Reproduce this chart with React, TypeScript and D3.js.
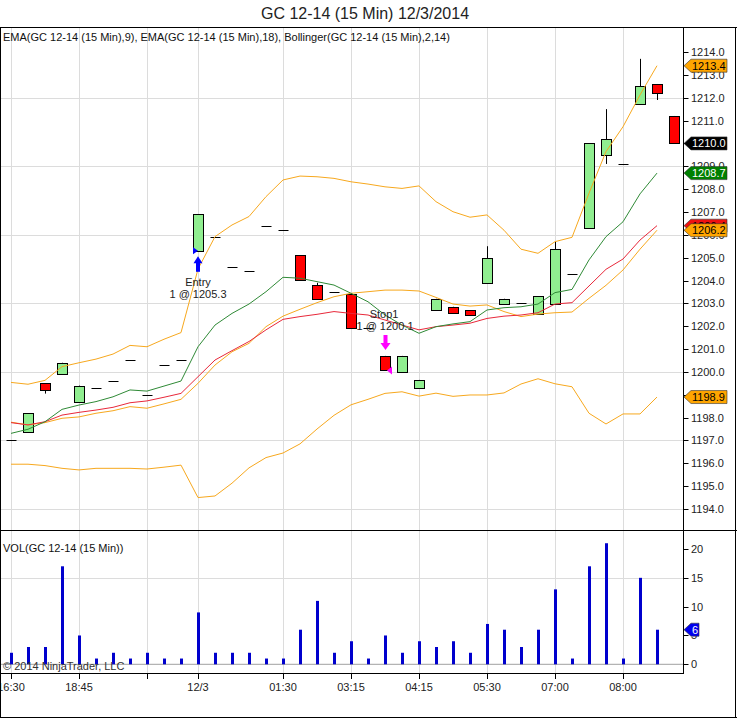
import React from 'react';
import * as d3 from 'd3';

const title = 'GC 12-14 (15 Min)  12/3/2014';
const priceLabel = 'EMA(GC 12-14 (15 Min),9), EMA(GC 12-14 (15 Min),18), Bollinger(GC 12-14 (15 Min),2,14)';
const volLabel = 'VOL(GC 12-14 (15 Min))';
const copyright = '\u00a9 2014 NinjaTrader, LLC';

// 15 min bars
const opens = [1197.0, 1197.35, 1199.5, 1199.9, 1198.7, 1199.3, 1199.6, 1200.5, 1199.0, 1200.3, 1200.5, 1205.3, 1205.9, 1204.6, 1204.4, 1206.4, 1206.2, 1205.1, 1203.8, 1203.5, 1203.4, 1201.9, 1200.7, 1200.0, 1199.3, 1202.7, 1202.85, 1202.7, 1203.9, 1203.0, 1203.0, 1202.5, 1203.0, 1204.3, 1206.3, 1209.5, 1209.1, 1211.7, 1212.6, 1211.2];
const highs = [1197.0, 1198.2, 1199.5, 1200.4, 1199.4, 1199.3, 1199.6, 1200.5, 1199.0, 1200.3, 1200.5, 1206.9, 1205.9, 1204.6, 1204.4, 1206.4, 1206.2, 1205.1, 1203.9, 1203.5, 1203.4, 1201.9, 1200.7, 1200.7, 1199.65, 1203.2, 1202.85, 1202.7, 1205.5, 1203.2, 1203.0, 1203.3, 1205.7, 1204.3, 1210.0, 1211.5, 1209.1, 1213.7, 1212.6, 1211.2];
const lows = [1197.0, 1197.35, 1199.05, 1199.9, 1198.7, 1199.3, 1199.6, 1200.5, 1199.0, 1200.3, 1200.5, 1205.3, 1205.9, 1204.6, 1204.4, 1206.4, 1206.2, 1204.0, 1203.2, 1203.5, 1201.9, 1201.9, 1200.1, 1200.0, 1199.3, 1202.7, 1202.6, 1202.5, 1203.9, 1203.0, 1203.0, 1202.5, 1203.0, 1204.3, 1206.3, 1209.1, 1209.1, 1211.7, 1211.9, 1210.0];
const closes = [1197.0, 1198.2, 1199.2, 1200.4, 1199.4, 1199.3, 1199.6, 1200.5, 1199.0, 1200.3, 1200.5, 1206.9, 1205.9, 1204.6, 1204.4, 1206.4, 1206.2, 1204.0, 1203.2, 1203.5, 1201.9, 1201.9, 1200.1, 1200.7, 1199.65, 1203.2, 1202.6, 1202.5, 1205.0, 1203.2, 1203.0, 1203.3, 1205.4, 1204.3, 1210.0, 1210.2, 1209.1, 1212.5, 1212.2, 1210.0];
const volumes = [2, 3, 3, 17, 5, 1, 2, 1, 2, 1, 1, 9, 2, 2, 2, 1, 1, 6, 11, 2, 4, 1, 5, 2, 4, 3, 4, 2, 7, 6, 3, 6, 13, 1, 17, 21, 1, 15, 6];

const ema9 = [1197.31, 1197.49, 1197.82, 1198.36, 1198.55, 1198.7, 1198.91, 1199.21, 1199.16, 1199.38, 1199.6, 1201.1, 1202.05, 1202.56, 1202.97, 1203.51, 1204.14, 1204.1, 1203.95, 1203.8, 1203.44, 1203.07, 1202.49, 1202.05, 1201.69, 1201.98, 1202.1, 1202.2, 1202.71, 1202.81, 1202.85, 1202.97, 1203.47, 1203.61, 1204.9, 1205.92, 1206.57, 1207.79, 1208.7];
const ema18 = [1197.78, 1197.68, 1197.82, 1198.11, 1198.23, 1198.33, 1198.45, 1198.65, 1198.73, 1198.89, 1199.06, 1199.79, 1200.52, 1200.93, 1201.33, 1201.84, 1202.3, 1202.42, 1202.52, 1202.64, 1202.56, 1202.49, 1202.27, 1202.05, 1201.84, 1201.98, 1202.05, 1202.13, 1202.34, 1202.44, 1202.49, 1202.59, 1202.97, 1203.03, 1203.76, 1204.49, 1204.94, 1205.77, 1206.4];
const bbUpper = [1199.54, 1199.46, 1199.63, 1200.23, 1200.4, 1200.56, 1200.78, 1201.16, 1201.1, 1201.43, 1201.72, 1204.5, 1205.92, 1206.43, 1206.8, 1207.67, 1208.4, 1208.57, 1208.54, 1208.47, 1208.32, 1208.22, 1208.1, 1208.03, 1208.14, 1207.45, 1207.01, 1206.77, 1206.87, 1206.2, 1205.37, 1205.19, 1205.7, 1205.89, 1207.82, 1209.64, 1210.73, 1212.12, 1213.4];
const bbMiddle = [1197.8, 1197.68, 1197.78, 1197.97, 1198.03, 1198.19, 1198.3, 1198.48, 1198.41, 1198.6, 1198.8, 1199.5, 1200.3, 1200.88, 1201.25, 1201.98, 1202.44, 1202.74, 1203.03, 1203.29, 1203.44, 1203.51, 1203.58, 1203.58, 1203.54, 1203.26, 1202.97, 1202.88, 1202.93, 1202.64, 1202.42, 1202.53, 1202.59, 1202.62, 1203.22, 1203.79, 1204.46, 1205.37, 1206.2];
const bbLower = [1195.96, 1195.96, 1195.9, 1195.78, 1195.71, 1195.78, 1195.78, 1195.78, 1195.75, 1195.83, 1195.92, 1194.5, 1194.57, 1195.13, 1195.8, 1196.25, 1196.45, 1196.85, 1197.5, 1198.1, 1198.56, 1198.8, 1199.06, 1199.13, 1198.94, 1199.07, 1198.93, 1198.99, 1198.99, 1199.08, 1199.47, 1199.7, 1199.48, 1199.35, 1198.19, 1197.72, 1198.16, 1198.16, 1198.9];

const timeTicks = [0, 4, 8, 11, 16, 20, 24, 28, 32, 36];
const timeLabels = ['16:30', '18:45', '', '12/3', '01:30', '03:15', '04:15', '05:30', '07:00', '08:00'];

const entryBar = 11;
const entryPrice = 1205.3;
const exitBar = 22;
const exitPrice = 1200.1;

const W = 737;
const H = 719;
const FONT = '"Liberation Sans", Arial, sans-serif';

const x = d3.scaleLinear().domain([0, 39]).range([11, 674]);
const yP = d3.scaleLinear().domain([1194, 1214]).range([509, 52]);
const yV = d3.scaleLinear().domain([0, 20]).range([664.3, 549]);

const axisX = 683.5;

function Tag({ y, text, fill, color, w = 43 }: { y: number; text: string; fill: string; color: string; w?: number }) {
  const x0 = 684;
  const h = 6.5;
  const pts = [[x0, y], [x0 + 7, y - h], [x0 + w, y - h], [x0 + w, y + h], [x0 + 7, y + h]].map((p) => p.join(',')).join(' ');
  return (
    <g>
      <polygon points={pts} fill={fill} stroke="#333" strokeWidth={0.6} />
      <text x={x0 + 8} y={y + 4} fontSize={11} fill={color} fontFamily={FONT}>{text}</text>
    </g>
  );
}

export default function App() {
  const idx = d3.range(opens.length);
  const line = (vals: number[]) =>
    d3.line<number>().x((_, i) => x(i)).y((d) => yP(d))(vals) || '';

  const last = (a: number[]) => a[a.length - 1];
  const tagPrices = [last(ema18), last(bbMiddle), last(bbLower), last(ema9), last(closes), last(bbUpper)];
  // axis labels that sit completely under a value tag are not drawn
  const priceTicks = d3.range(1194, 1214.001, 1).filter(
    (p) => !tagPrices.some((t) => Math.abs(yP(p) - yP(t)) < 3)
  );
  const tickMarks = d3.range(1194, 1214.001, 1);
  const priceGrid = d3.range(1194, 1214, 3);
  const volTicks = [0, 5, 10, 15, 20];
  const half = 5;

  const ex = x(entryBar);
  const ey = yP(entryPrice);
  const sx = x(exitBar);
  const sy = yP(exitPrice);

  return (
    <svg width={W} height={H} style={{ position: 'absolute', left: 0, top: 0, background: '#fff' }} fontFamily={FONT}>
      <defs>
        <clipPath id="plot">
          <rect x={1} y={28} width={axisX - 1} height={502} />
        </clipPath>
        <clipPath id="xlab">
          <rect x={1} y={674} width={axisX} height={40} />
        </clipPath>
      </defs>
      <rect width={W} height={H} fill="#fff" />
      <text x={365} y={19} fontSize={16} textAnchor="middle" fill="#222">{title}</text>

      {/* grid */}
      <g stroke="#dcdcdc" strokeWidth={1}>
        {timeTicks.map((t) => (
          <line key={'v' + t} x1={Math.round(x(t)) + 0.5} x2={Math.round(x(t)) + 0.5} y1={28} y2={673} />
        ))}
        {priceGrid.map((p) => (
          <line key={'h' + p} x1={1} x2={axisX} y1={Math.round(yP(p)) + 0.5} y2={Math.round(yP(p)) + 0.5} />
        ))}
        <line x1={1} x2={axisX} y1={Math.round(yV(15)) + 0.5} y2={Math.round(yV(15)) + 0.5} />
      </g>

      <text x={3} y={41} fontSize={11} fill="#111">{priceLabel}</text>
      <text x={3} y={552} fontSize={11} fill="#111">{volLabel}</text>

      {/* candles */}
      <g clipPath="url(#plot)">
        {idx.map((i) => {
          const cx = Math.round(x(i)) + 0.5;
          const o = opens[i];
          const c = closes[i];
          if (o === c) {
            return <line key={i} x1={cx - half} x2={cx + half} y1={Math.round(yP(c)) + 0.5} y2={Math.round(yP(c)) + 0.5} stroke="#000" />;
          }
          const top = yP(Math.max(o, c));
          const bot = yP(Math.min(o, c));
          return (
            <g key={i}>
              <line x1={cx} x2={cx} y1={yP(highs[i])} y2={yP(lows[i])} stroke="#000" />
              <rect x={cx - half} y={Math.round(top) + 0.5} width={half * 2} height={Math.max(1, Math.round(bot - top))} fill={c > o ? '#90ee90' : '#ff0000'} stroke="#000" />
            </g>
          );
        })}
      </g>

      {/* indicators */}
      <g fill="none" strokeWidth={1} clipPath="url(#plot)">
        <path d={line(bbUpper)} stroke="#f7a81e" />
        <path d={line(bbLower)} stroke="#f7a81e" />
        <path d={line(bbMiddle)} stroke="#f7a81e" />
        <path d={line(ema18)} stroke="#e8283a" />
        <path d={line(ema9)} stroke="#2f8a36" />
      </g>

      {/* entry */}
      <polygon points={`${ex - 5},${ey - 3.5} ${ex},${ey} ${ex - 5},${ey + 3.5}`} fill="#0000ff" />
      <polygon points={`${ex - 4.5},${ey + 12.5} ${ex},${ey + 5.5} ${ex + 4.5},${ey + 12.5}`} fill="#0000ff" />
      <rect x={ex - 2} y={ey + 12} width={4} height={9} fill="#0000ff" />
      <text x={ex} y={286} fontSize={11} textAnchor="middle" fill="#222">Entry</text>
      <text x={ex} y={298} fontSize={11} textAnchor="middle" fill="#222">1 @ 1205.3</text>

      {/* exit */}
      <text x={sx - 1} y={318} fontSize={11} textAnchor="middle" fill="#222">Stop1</text>
      <text x={sx} y={330} fontSize={11} textAnchor="middle" fill="#222">1 @ 1200.1</text>
      <rect x={sx - 1.5} y={335} width={4} height={8} fill="#ff00ff" />
      <polygon points={`${sx - 4.5},${343} ${sx + 0.5},${350} ${sx + 5.5},${343}`} fill="#ff00ff" />
      <polygon points={`${sx + 2},${sy + 1} ${sx + 7},${sy - 3} ${sx + 7},${sy + 5}`} fill="#ff00ff" />

      {/* volume */}
      <line x1={1} x2={axisX} y1={yV(0)} y2={yV(0)} stroke="#a0a0a0" />
      <g fill="#0000cd">
        {volumes.map((v, i) => (
          <rect key={i} x={Math.round(x(i)) - 1} y={yV(v)} width={3} height={yV(0) - yV(v)} />
        ))}
      </g>
      <text x={3} y={670} fontSize={11} fill="#333">{copyright}</text>

      {/* frame */}
      <g stroke="#000" strokeWidth={1} fill="none">
        <line x1={0} x2={W} y1={27.5} y2={27.5} />
        <line x1={0.5} x2={0.5} y1={27} y2={718} />
        <line x1={735.5} x2={735.5} y1={27} y2={718} />
        <line x1={0} x2={W} y1={717.5} y2={717.5} />
        <line x1={0} x2={W} y1={530.5} y2={530.5} />
        <line x1={axisX} x2={axisX} y1={27} y2={674} />
        <line x1={0} x2={axisX} y1={673.5} y2={673.5} />
      </g>

      {/* time axis */}
      <g>
        {timeTicks.map((t, k) => (
          <g key={t}>
            <line x1={Math.round(x(t)) + 0.5} x2={Math.round(x(t)) + 0.5} y1={674} y2={679} stroke="#000" />
            <text x={x(t)} y={691} fontSize={11} textAnchor="middle" fill="#222" clipPath="url(#xlab)">{timeLabels[k]}</text>
          </g>
        ))}
      </g>

      {/* price axis */}
      <g>
        {tickMarks.map((p) => (
          <line key={'t' + p} x1={axisX} x2={axisX + 5} y1={Math.round(yP(p)) + 0.5} y2={Math.round(yP(p)) + 0.5} stroke="#000" />
        ))}
        {priceTicks.map((p) => (
          <text key={p} x={691} y={yP(p) + 4} fontSize={11} fill="#222">{p.toFixed(1)}</text>
        ))}
        {volTicks.map((v) => (
          <g key={v}>
            <line x1={axisX} x2={axisX + 5} y1={Math.round(yV(v)) + 0.5} y2={Math.round(yV(v)) + 0.5} stroke="#000" />
            <text x={691} y={yV(v) + 4} fontSize={11} fill="#222">{v}</text>
          </g>
        ))}
      </g>

      {/* last value tags */}
      <Tag y={yP(last(ema18))} text={last(ema18).toFixed(1)} fill="#ee1111" color="#000" />
      <Tag y={yP(last(bbMiddle))} text={last(bbMiddle).toFixed(1)} fill="#ffa500" color="#000" />
      <Tag y={yP(last(bbLower))} text={last(bbLower).toFixed(1)} fill="#ffa500" color="#000" />
      <Tag y={yP(last(ema9))} text={last(ema9).toFixed(1)} fill="#008000" color="#fff" />
      <Tag y={yP(last(closes))} text={last(closes).toFixed(1)} fill="#000" color="#fff" />
      <Tag y={yP(last(bbUpper))} text={last(bbUpper).toFixed(1)} fill="#ffa500" color="#000" />
      <Tag y={yV(last(volumes))} text={String(last(volumes))} fill="#0000ee" color="#fff" w={15} />
    </svg>
  );
}
